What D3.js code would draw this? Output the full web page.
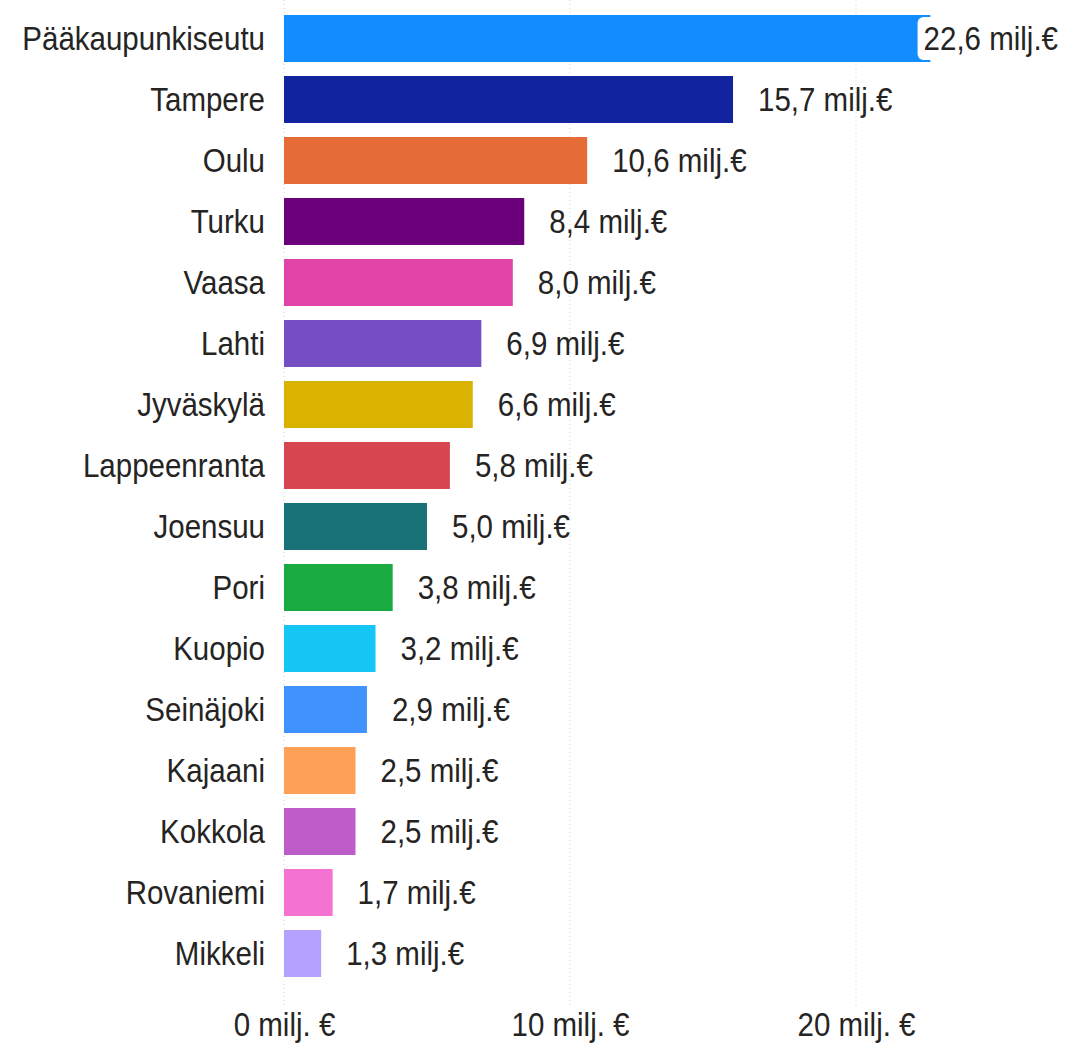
<!DOCTYPE html>
<html>
<head>
<meta charset="utf-8">
<script src="https://cdn.jsdelivr.net/npm/d3@7"></script>
<style>
  body { margin: 0; background: #fff; }
  svg text { font-family: "Liberation Sans", Arial, sans-serif; fill: #252423; }
</style>
</head>
<body>
<svg id="chart"></svg>
<script>
const categories = ["Pääkaupunkiseutu", "Tampere", "Oulu", "Turku", "Vaasa", "Lahti", "Jyväskylä",
  "Lappeenranta", "Joensuu", "Pori", "Kuopio", "Seinäjoki", "Kajaani", "Kokkola", "Rovaniemi", "Mikkeli"];
const values = [22.6, 15.7, 10.6, 8.4, 8.0, 6.9, 6.6, 5.8, 5.0, 3.8, 3.2, 2.9, 2.5, 2.5, 1.7, 1.3];
const colors = ["#118DFF", "#12239E", "#E66C37", "#6B007B", "#E044A7", "#744EC2", "#D9B300",
  "#D64550", "#197278", "#1AAB40", "#15C6F4", "#4092FF", "#FFA058", "#BE5DC9", "#F472D0", "#B5A1FF"];
const tickValues = [0, 10, 20];

const width = 1068, height = 1045;
const fontSize = 29.5;
const stretch = "scale(1,1.12)";

const svg = d3.select("#chart").attr("width", width).attr("height", height);

const x = d3.scaleLinear().domain([0, 25]).range([284, 999]);
const y = d3.scaleBand().domain(categories).range([8, 984]).paddingInner(0.23).paddingOuter(0.115);

// gridlines
svg.selectAll(".grid")
  .data(tickValues).enter()
  .append("line")
  .attr("class", "grid")
  .attr("x1", d => x(d)).attr("x2", d => x(d))
  .attr("y1", 0).attr("y2", 1005)
  .attr("stroke", "#d8d8d8")
  .attr("stroke-width", 1)
  .attr("stroke-dasharray", "1,3");

// x axis labels
const xAxis = d3.axisBottom(x).tickValues(tickValues).tickSize(0).tickPadding(0).tickFormat(d => d + " milj. €");
const gx = svg.append("g").attr("transform", "translate(0, 1024)").call(xAxis);
gx.select(".domain").remove();
gx.selectAll("text").attr("font-size", fontSize).attr("dy", "0.35em")
  .attr("transform", stretch).style("fill", "#252423");
gx.attr("font-family", null);

// category labels
const yAxis = d3.axisLeft(y).tickSize(0).tickPadding(0);
const gy = svg.append("g").attr("transform", "translate(265, 0)").call(yAxis);
gy.select(".domain").remove();
gy.selectAll("text").attr("font-size", fontSize).attr("dy", "0.35em")
  .attr("transform", stretch).style("fill", "#252423");
gy.attr("font-family", null);

// bars
svg.selectAll(".bar")
  .data(values).enter()
  .append("rect")
  .attr("class", "bar")
  .attr("x", x(0))
  .attr("y", (d, i) => y(categories[i]))
  .attr("width", d => x(d) - x(0))
  .attr("height", y.bandwidth())
  .attr("fill", (d, i) => colors[i]);

// value labels
const fmt = v => d3.format(".1f")(v).replace(".", ",") + " milj.€";
const labels = svg.selectAll(".val")
  .data(values).enter()
  .append("g")
  .attr("class", "val");

labels.each(function(d, i) {
  const g = d3.select(this);
  const cy = y(categories[i]) + y.bandwidth() / 2;
  const tg = g.append("g");
  const t = tg.append("text")
    .attr("font-size", fontSize)
    .attr("dy", "0.35em")
    .attr("transform", stretch)
    .text(fmt(d));
  const w = t.node().getComputedTextLength();
  let tx = x(d) + 25;
  if (tx + w > width - 10) {
    tx = width - 10 - w;
    g.insert("rect", "g")
      .attr("x", tx - 6)
      .attr("y", y(categories[i]) + 2)
      .attr("width", w + 12)
      .attr("height", y.bandwidth() - 4)
      .attr("rx", 6)
      .attr("fill", "#fff");
  }
  tg.attr("transform", `translate(${tx},${cy})`);
});
</script>
</body>
</html>
